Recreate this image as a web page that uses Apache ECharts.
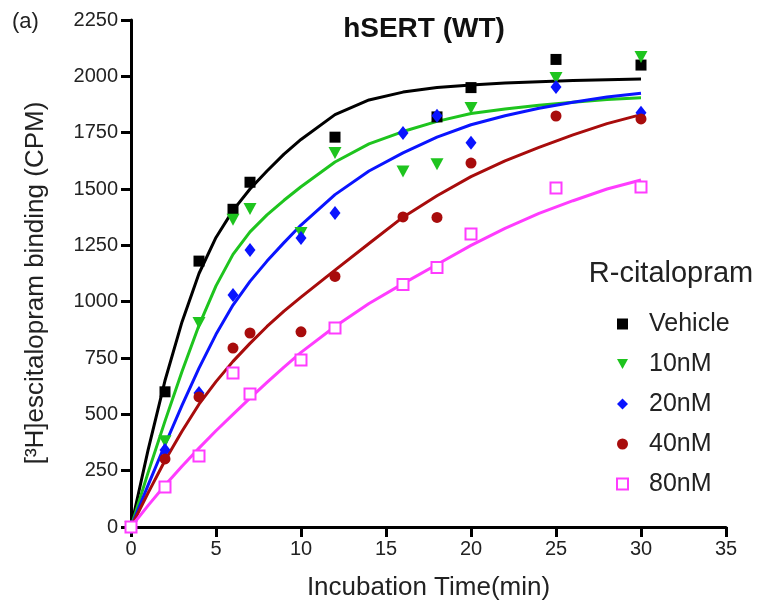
<!DOCTYPE html>
<html>
<head>
<meta charset="utf-8">
<script src="https://cdn.jsdelivr.net/npm/echarts@6/dist/echarts.min.js"></script>
<style>html,body{margin:0;padding:0;background:#fff}#c{width:769px;height:607px}</style>
</head>
<body>
<div id="c"></div>
<script>
// Measured data points (time in min, CPM)
const times = [0, 2, 4, 6, 7, 10, 12, 16, 18, 20, 25, 30];
const vehicle = [0, 600, 1180, 1410, 1530, null, 1730, null, 1820, 1950, 2075, 2050];
const nM10 = [0, 380, 905, 1363, 1411, 1305, 1660, 1578, 1610, 1860, 1993, 2086];
const nM20 = [0, 342, 595, 1030, 1229, 1283, 1394, 1748, 1825, 1705, 1953, 1838];
const nM40 = [0, 302, 577, 794, 861, 866, 1112, 1376, 1374, 1615, 1824, 1811];
const nM80 = [0, 178, 315, 683, 590, 741, 883, 1076, 1152, 1300, 1504, 1509];

// Fitted curves
const fitTimes = [0, 1, 2, 3, 4, 5, 6, 7, 8, 9, 10, 12, 14, 16, 18, 20, 22, 24, 26, 28, 30];
const vehicleFit = [0, 340, 650, 910, 1125, 1285, 1405, 1500, 1580, 1655, 1720, 1830, 1895, 1930, 1950, 1962, 1970, 1976, 1981, 1985, 1988];
const nM10Fit = [0, 240, 470, 690, 895, 1070, 1210, 1310, 1385, 1450, 1510, 1620, 1700, 1755, 1800, 1835, 1855, 1872, 1885, 1897, 1905];
const nM20Fit = [0, 185, 365, 540, 705, 855, 985, 1090, 1180, 1262, 1340, 1475, 1580, 1660, 1730, 1785, 1825, 1858, 1885, 1908, 1925];
const nM40Fit = [0, 150, 295, 425, 545, 645, 735, 815, 890, 958, 1020, 1140, 1258, 1375, 1470, 1555, 1625, 1685, 1740, 1790, 1830];
const nM80Fit = [0, 95, 185, 270, 350, 427, 500, 572, 642, 710, 775, 890, 992, 1080, 1165, 1250, 1325, 1392, 1448, 1500, 1540];

const xTicks = [0, 5, 10, 15, 20, 25, 30, 35];
const yTicks = [0, 250, 500, 750, 1000, 1250, 1500, 1750, 2000, 2250];

const names = ['Vehicle', '10nM', '20nM', '40nM', '80nM'];
const pts = [vehicle, nM10, nM20, nM40, nM80];
const fits = [vehicleFit, nM10Fit, nM20Fit, nM40Fit, nM80Fit];
const colors = ['#000000', '#1ec41e', '#0a14ff', '#a80c0c', '#ff3cff'];

function pairs(xs, ys) {
  const out = [];
  xs.forEach((x, i) => { if (ys[i] !== null) out.push([x, ys[i]]); });
  return out;
}

const FONT = 'Liberation Sans, Arial, sans-serif';
const series = [];
fits.forEach((f, i) => {
  series.push({
    name: names[i] + ' fit', type: 'line', data: pairs(fitTimes, f),
    smooth: false, showSymbol: false, symbol: 'none',
    lineStyle: { color: colors[i], width: 3, join: 'round' }, z: 2, silent: true
  });
});
const symbols = [
  { symbol: 'rect', symbolSize: 11, itemStyle: { color: colors[0], opacity: 1 } },
  { symbol: 'triangle', symbolSize: [13, 12], symbolRotate: 180, itemStyle: { color: colors[1], opacity: 1 } },
  { symbol: 'diamond', symbolSize: [11, 14], itemStyle: { color: colors[2], opacity: 1 } },
  { symbol: 'circle', symbolSize: 11, itemStyle: { color: colors[3], opacity: 1 } },
  { symbol: 'rect', symbolSize: 11, itemStyle: { color: '#ffffff', borderColor: colors[4], borderWidth: 2, opacity: 1 } }
];
pts.forEach((p, i) => {
  series.push(Object.assign({
    name: names[i], type: 'scatter', data: pairs(times, p), z: 3
  }, symbols[i]));
});

const legendData = names.map((n, i) => i === 1 ? { name: n, icon: 'path://M0,0 L12,0 L6,11 Z' } : { name: n });

const chart = echarts.init(document.getElementById('c'), null, { renderer: 'canvas' });
chart.setOption({
  animation: false,
  backgroundColor: '#ffffff',
  grid: { left: 131, right: 43, top: 20, bottom: 80, containLabel: false },
  xAxis: {
    type: 'value', min: xTicks[0], max: xTicks[xTicks.length - 1], interval: 5,
    axisLine: { show: true, lineStyle: { color: '#000', width: 3 } },
    axisTick: { show: true, length: 10, lineStyle: { color: '#000', width: 3 } },
    axisLabel: { margin: 12, color: '#222', fontSize: 20, fontFamily: FONT },
    splitLine: { show: false },
    name: 'Incubation Time(min)', nameLocation: 'middle', nameGap: 48,
    nameTextStyle: { color: '#222', fontSize: 26, fontFamily: FONT }
  },
  yAxis: {
    type: 'value', min: yTicks[0], max: yTicks[yTicks.length - 1], interval: 250,
    axisLine: { show: true, lineStyle: { color: '#000', width: 3 } },
    axisTick: { show: true, length: 10, lineStyle: { color: '#000', width: 3 } },
    axisLabel: { margin: 13, color: '#222', fontSize: 20, fontFamily: FONT, formatter: v => String(v) },
    splitLine: { show: false }
  },
  legend: {
    data: legendData, orient: 'vertical', left: 611, top: 305,
    itemWidth: 11, itemHeight: 11, itemGap: 12,
    textStyle: { fontSize: 25, color: '#222', fontFamily: FONT, lineHeight: 28, padding: [0, 0, 0, 16] },
    selectedMode: false
  },
  graphic: [
    { type: 'text', left: 12, top: 11, style: { text: '(a)', font: '22px ' + FONT, fill: '#222' } },
    { type: 'text', x: 424, y: 29, style: { text: 'hSERT (WT)', font: 'bold 28px ' + FONT, fill: '#111', align: 'center', verticalAlign: 'middle' } },
    { type: 'text', x: 671, y: 274, style: { text: 'R-citalopram', font: '29px ' + FONT, fill: '#222', align: 'center', verticalAlign: 'middle' } },
    { type: 'text', x: 36, y: 283, rotation: Math.PI / 2, style: { text: '[³H]escitalopram binding (CPM)', font: '26px ' + FONT, fill: '#222', align: 'center', verticalAlign: 'middle' } }
  ],
  series: series
});
</script>
</body>
</html>
